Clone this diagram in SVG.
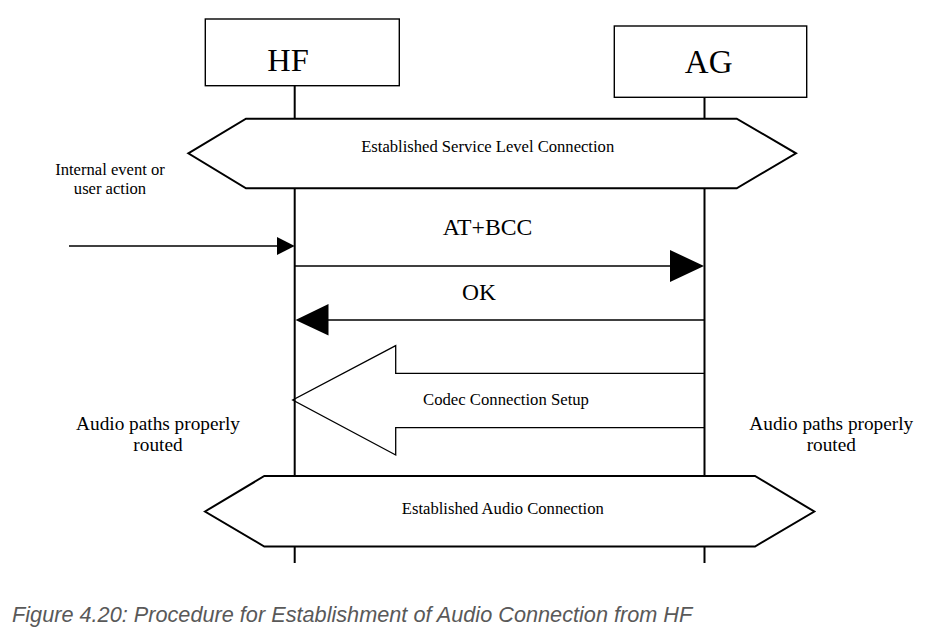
<svg xmlns="http://www.w3.org/2000/svg" width="930" height="630" viewBox="0 0 930 630">
<style>
.box{fill:#fff;stroke:#000;stroke-width:1.4}
.hex{fill:#fff;stroke:#000;stroke-width:2}
.life{stroke:#000;stroke-width:2;fill:none}
.msg{stroke:#000;stroke-width:1.3;fill:none}
.head{fill:#000;stroke:none}
.t{font-family:"Liberation Serif","Times New Roman",serif;fill:#000;text-anchor:middle}
.cap{font-family:"Liberation Sans",Arial,sans-serif;font-style:italic;font-size:21.7px;fill:#595959}
</style>
<rect width="930" height="630" fill="#fff"/>
<g id="connectors">
<line class="life" x1="294.7" y1="86" x2="294.7" y2="563"/>
<line class="life" x1="704.5" y1="97" x2="704.5" y2="563"/>
<line class="msg" x1="69" y1="246" x2="278" y2="246"/>
<polygon class="head" points="277,237 294.7,246 277,255"/>
<line class="msg" x1="294.7" y1="266" x2="672" y2="266"/>
<polygon class="head" points="670,250 704,266 670,282"/>
<line class="msg" x1="704.5" y1="320" x2="327" y2="320"/>
<polygon class="head" points="328.5,304 295.5,320 328.5,335.5"/>
<polyline class="msg" points="704.5,373.3 395.7,373.3 395.7,345.7 292.7,400 395.7,455 395.7,427.7 704.5,427.7"/>
</g>
<g id="hf">
<rect class="box" x="205.3" y="19" width="194" height="66.7"/>
<text class="t" x="288" y="70.7" font-size="32.5">HF</text>
</g>
<g id="ag">
<rect class="box" x="614.3" y="26" width="192.4" height="71.3"/>
<text class="t" x="708.7" y="73.3" font-size="33">AG</text>
</g>
<g id="slc">
<polygon class="hex" points="188.3,153.3 246,118.7 736.7,118.7 796,153.3 736.7,188.3 246,188.3"/>
<text class="t" x="487.7" y="151.7" font-size="16.6">Established Service Level Connection</text>
</g>
<g id="event">
<text class="t" x="110" y="175" font-size="16.6">Internal event or</text>
<text class="t" x="110" y="194.3" font-size="16.6">user action</text>
</g>
<g id="atbcc"><text class="t" x="487.5" y="234.5" font-size="23.7">AT+BCC</text></g>
<g id="ok"><text class="t" x="479" y="300" font-size="23.5">OK</text></g>
<g id="codec"><text class="t" x="506" y="405" font-size="16.7">Codec Connection Setup</text></g>
<g id="hfaudio">
<text class="t" x="158" y="429.5" font-size="19.3">Audio paths properly</text>
<text class="t" x="158" y="450.5" font-size="19.3">routed</text>
</g>
<g id="agaudio">
<text class="t" x="831.3" y="429.5" font-size="19.3">Audio paths properly</text>
<text class="t" x="831.3" y="450.5" font-size="19.3">routed</text>
</g>
<g id="eac">
<polygon class="hex" points="205,511.5 264.3,476 755,476 814.3,511.5 755,546.5 264.3,546.5"/>
<text class="t" x="502.8" y="514.3" font-size="16.6">Established Audio Connection</text>
</g>
<text class="cap" x="12" y="621.5">Figure 4.20: Procedure for Establishment of Audio Connection from HF</text>
</svg>
